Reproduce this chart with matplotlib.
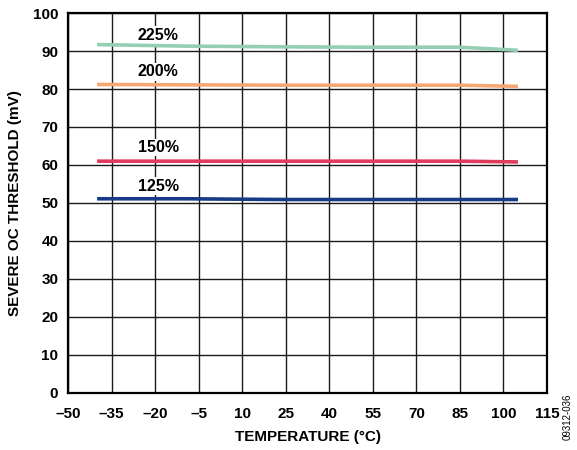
import matplotlib
matplotlib.use("Agg")
from matplotlib import pyplot as plt

plt.rcParams['font.family'] = ['Liberation Sans', 'DejaVu Sans']

# measured temperatures (deg C)
temps = [-40, -10, 25, 55, 85, 105]

# severe OC threshold (mV) per setting
oc_225 = [91.7, 91.3, 91.1, 91.0, 91.0, 90.2]
oc_200 = [81.2, 81.1, 81.0, 81.0, 81.0, 80.7]
oc_150 = [61.0, 61.0, 61.0, 61.0, 61.0, 60.8]
oc_125 = [51.1, 51.1, 50.9, 50.9, 50.9, 50.9]

series_labels = ['225%', '200%', '150%', '125%']
series_colors = ['#94ceb3', '#f7a772', '#e03a5c', '#163a86']
label_pos = [(-19, 94.2), (-19, 84.5), (-19, 64.6), (-19, 54.4)]

x_ticks = [-50, -35, -20, -5, 10, 25, 40, 55, 70, 85, 100, 115]
y_ticks = [0, 10, 20, 30, 40, 50, 60, 70, 80, 90, 100]

fig = plt.figure(figsize=(5.77, 4.5), dpi=100)
ax = fig.add_axes([0.118, 0.127, 0.830, 0.844])

for vals, col in zip([oc_225, oc_200, oc_150, oc_125], series_colors):
    ax.plot(temps, vals, color=col, lw=2.6, solid_capstyle='butt', zorder=3)

for lab, (x, y) in zip(series_labels, label_pos):
    ax.text(x, y, lab, ha='center', va='center', fontsize=11.5, fontweight='bold',
            bbox=dict(facecolor='white', edgecolor='none', pad=1.0), zorder=2.5)

ax.set_xlim(-50, 115)
ax.set_ylim(0, 100)
ax.set_xticks(x_ticks)
ax.set_yticks(y_ticks)
ax.set_xticklabels([str(t).replace('-', '\u2013') for t in x_ticks])
ax.grid(True, color='#1a1a1a', lw=1.0)
ax.set_axisbelow(True)
ax.tick_params(length=0, labelsize=11)
ax.tick_params(axis='x', pad=10)
ax.tick_params(axis='y', pad=7)
for t in ax.get_xticklabels() + ax.get_yticklabels():
    t.set_fontweight('bold')
for s in ax.spines.values():
    s.set_linewidth(1.6)

ax.set_xlabel('TEMPERATURE (°C)', fontsize=11, fontweight='bold', labelpad=7)
ax.set_ylabel('SEVERE OC THRESHOLD (mV)', fontsize=11, fontweight='bold', labelpad=8)

fig.text(0.983, 0.073, '09312-036', rotation=90, fontsize=7, ha='center', va='center')

fig.savefig('out.png', dpi=100)
